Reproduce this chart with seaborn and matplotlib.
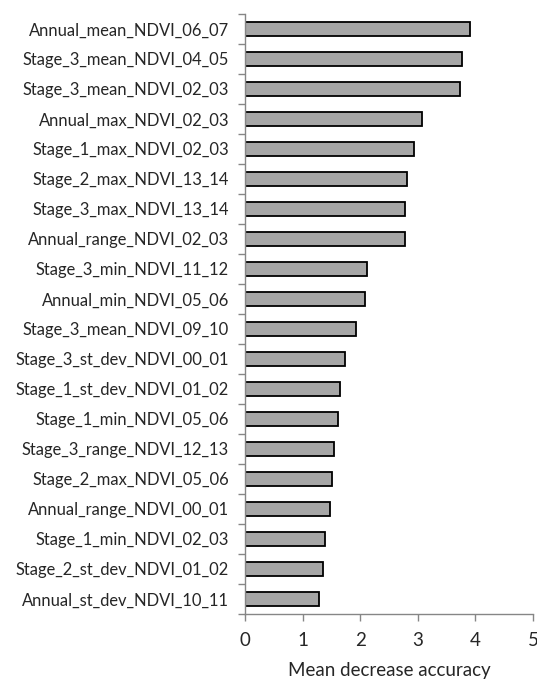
import matplotlib
matplotlib.use("Agg")
import matplotlib.pyplot as plt
import numpy as np
import pandas as pd
import seaborn as sns

variables = [
    "Annual_mean_NDVI_06_07",
    "Stage_3_mean_NDVI_04_05",
    "Stage_3_mean_NDVI_02_03",
    "Annual_max_NDVI_02_03",
    "Stage_1_max_NDVI_02_03",
    "Stage_2_max_NDVI_13_14",
    "Stage_3_max_NDVI_13_14",
    "Annual_range_NDVI_02_03",
    "Stage_3_min_NDVI_11_12",
    "Annual_min_NDVI_05_06",
    "Stage_3_mean_NDVI_09_10",
    "Stage_3_st_dev_NDVI_00_01",
    "Stage_1_st_dev_NDVI_01_02",
    "Stage_1_min_NDVI_05_06",
    "Stage_3_range_NDVI_12_13",
    "Stage_2_max_NDVI_05_06",
    "Annual_range_NDVI_00_01",
    "Stage_1_min_NDVI_02_03",
    "Stage_2_st_dev_NDVI_01_02",
    "Annual_st_dev_NDVI_10_11",
]
mda = [3.90, 3.76, 3.74, 3.07, 2.93, 2.82, 2.77, 2.77, 2.12, 2.09,
       1.93, 1.74, 1.65, 1.62, 1.55, 1.51, 1.48, 1.39, 1.36, 1.29]
x_ticks = [0, 1, 2, 3, 4, 5]

df = pd.DataFrame({"variable": variables, "mda": mda})

sns.set_style("white")
plt.rcParams["font.family"] = ["Lato", "DejaVu Sans"]

fig = plt.figure(figsize=(5.37, 6.79), dpi=100)
ax = fig.add_axes([245 / 537, 65 / 679, 288 / 537, 600 / 679])

sns.barplot(data=df, x="mda", y="variable", order=variables, orient="h",
            color="#A6A6A6", edgecolor="black", linewidth=1.3,
            width=0.44, saturation=1, ax=ax)

axis_grey = "#868686"
ax.set_xlim(0, 5)
ax.set_ylim(len(variables) - 0.5, -0.5)
ax.set_xticks(x_ticks)
ax.set_xticklabels([str(t) for t in x_ticks], fontsize=13.5)
ax.set_yticks(np.arange(len(variables)))
ax.set_yticklabels(variables, fontsize=11.9)
ax.set_yticks(np.arange(len(variables) + 1) - 0.5, minor=True)
ax.tick_params(axis="y", which="major", length=0, pad=11.5)
ax.tick_params(axis="y", which="minor", length=5, width=1, color=axis_grey, left=True)
ax.tick_params(axis="x", which="major", length=5, width=1, color=axis_grey,
               bottom=True, pad=8)
ax.set_xlabel("Mean decrease accuracy", fontsize=13.5, labelpad=9)
ax.set_ylabel("")
for side in ("top", "right"):
    ax.spines[side].set_visible(False)
for side in ("left", "bottom"):
    ax.spines[side].set_color(axis_grey)
    ax.spines[side].set_linewidth(1)

fig.savefig("out.png", dpi=100, facecolor="white")
